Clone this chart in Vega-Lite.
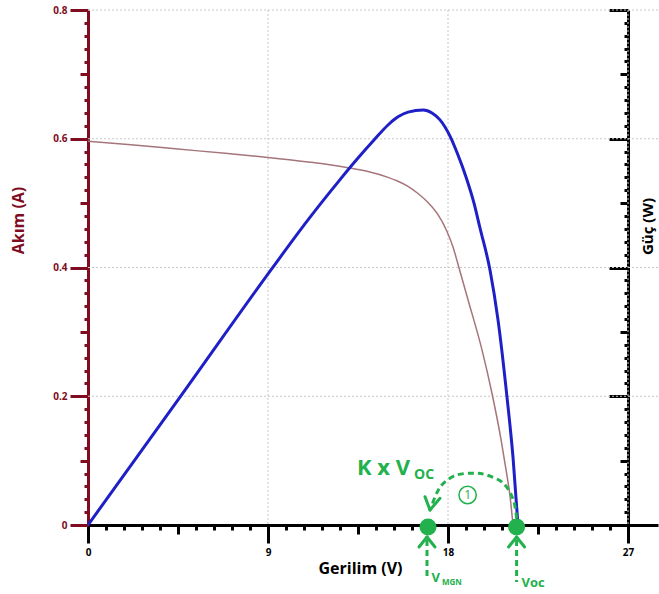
{
  "$schema": "https://vega.github.io/schema/vega-lite/v6.json",
  "width": 570,
  "height": 515,
  "autosize": "none",
  "padding": {"left": 88, "top": 10, "right": 1, "bottom": 69},
  "background": "white",
  "config": {"view": {"stroke": null}, "font": "Open Sans"},
  "datasets": {
    "hgrid": [{"I": 0.2}, {"I": 0.4}, {"I": 0.6}, {"I": 0.8}],
    "vgrid": [{"V": 9}, {"V": 18}, {"V": 27}],
    "current": [
      {"V": 0, "I": 0.596}, {"V": 2, "I": 0.591}, {"V": 4.5, "I": 0.584}, {"V": 7, "I": 0.577},
      {"V": 9, "I": 0.571}, {"V": 11, "I": 0.564}, {"V": 12, "I": 0.56}, {"V": 13, "I": 0.555},
      {"V": 14, "I": 0.549}, {"V": 15, "I": 0.540}, {"V": 15.5, "I": 0.534}, {"V": 16, "I": 0.526},
      {"V": 16.5, "I": 0.515}, {"V": 17, "I": 0.501}, {"V": 17.5, "I": 0.482}, {"V": 17.95, "I": 0.456},
      {"V": 18.25, "I": 0.432}, {"V": 18.5, "I": 0.405}, {"V": 19, "I": 0.350}, {"V": 19.7, "I": 0.272},
      {"V": 20.23, "I": 0.2}, {"V": 20.65, "I": 0.133}, {"V": 20.9, "I": 0.086}, {"V": 21.1, "I": 0.045},
      {"V": 21.2, "I": 0.016}, {"V": 21.25, "I": 0}
    ],
    "power": [
      {"V": 0, "P": 0}, {"V": 4.6, "P": 2.98}, {"V": 9.25, "P": 6.01}, {"V": 11, "P": 7.11},
      {"V": 12.5, "P": 7.99}, {"V": 13.5, "P": 8.55}, {"V": 14.3, "P": 8.97}, {"V": 15, "P": 9.32},
      {"V": 15.5, "P": 9.51}, {"V": 16, "P": 9.62}, {"V": 16.77, "P": 9.67}, {"V": 17.2, "P": 9.6},
      {"V": 17.6, "P": 9.44}, {"V": 18.1, "P": 9.06}, {"V": 18.5, "P": 8.62}, {"V": 18.9, "P": 8.11},
      {"V": 19.3, "P": 7.5}, {"V": 19.6, "P": 6.92}, {"V": 20.1, "P": 5.94}, {"V": 20.5, "P": 4.78},
      {"V": 20.95, "P": 2.98}, {"V": 21.25, "P": 1.58}, {"V": 21.5, "P": 0}
    ],
    "dashed": [
      {"part": "arc", "k": 1, "V": 21.43, "I": 0.0104},
      {"part": "arc", "k": 2, "V": 21.27, "I": 0.0388},
      {"part": "arc", "k": 3, "V": 20.77, "I": 0.0648},
      {"part": "arc", "k": 4, "V": 19.93, "I": 0.0777},
      {"part": "arc", "k": 5, "V": 19.27, "I": 0.0803},
      {"part": "arc", "k": 6, "V": 18.43, "I": 0.0777},
      {"part": "arc", "k": 7, "V": 17.77, "I": 0.0648},
      {"part": "arc", "k": 8, "V": 17.43, "I": 0.0492},
      {"part": "arc", "k": 9, "V": 17.2, "I": 0.031},
      {"part": "upL", "k": 1, "V": 16.95, "I": -0.0233},
      {"part": "upL", "k": 2, "V": 16.95, "I": -0.0854},
      {"part": "upR", "k": 1, "V": 21.43, "I": -0.0233},
      {"part": "upR", "k": 2, "V": 21.43, "I": -0.0885}
    ],
    "heads": [
      {"V": 17.1, "I": 0.0233, "V2": 16.85, "I2": 0.044},
      {"V": 17.1, "I": 0.0233, "V2": 17.6, "I2": 0.0415},
      {"V": 16.95, "I": -0.0186, "V2": 16.55, "I2": -0.0342},
      {"V": 16.95, "I": -0.0186, "V2": 17.35, "I2": -0.0342},
      {"V": 21.43, "I": -0.0186, "V2": 21.03, "I2": -0.0342},
      {"V": 21.43, "I": -0.0186, "V2": 21.83, "I2": -0.0342}
    ],
    "dots": [
      {"name": "VMGN", "V": 17.0, "I": -0.003},
      {"name": "Voc", "V": 21.43, "I": -0.003}
    ],
    "step": [{"label": "1", "V": 18.98, "I": 0.0466}],
    "bigText": [{"label": "K x V", "V": 13.45, "I": 0.0777}],
    "bigSub": [{"label": "OC", "V": 16.3, "I": 0.0715}],
    "midText": [
      {"label": "V", "V": 17.18, "I": -0.0885},
      {"label": "Voc", "V": 21.68, "I": -0.0963}
    ],
    "smallSub": [{"label": "MGN", "V": 17.7, "I": -0.0932}]
  },
  "layer": [
    {
      "data": {"name": "hgrid"},
      "mark": {"type": "rule", "color": "#c8c8c8", "strokeWidth": 1, "strokeDash": [2, 2]},
      "encoding": {
        "y": {"field": "I", "type": "quantitative", "scale": {"domain": [0, 0.8], "nice": false}, "axis": null}
      }
    },
    {
      "data": {"name": "vgrid"},
      "mark": {"type": "rule", "color": "#c8c8c8", "strokeWidth": 1, "strokeDash": [2, 2]},
      "encoding": {
        "x": {
          "field": "V", "type": "quantitative",
          "scale": {"domain": [0, 28.5], "nice": false, "zero": false},
          "axis": {
            "orient": "bottom",
            "values": [0,0.9,1.8,2.7,3.6,4.5,5.4,6.3,7.2,8.1,9,9.9,10.8,11.7,12.6,13.5,14.4,15.3,16.2,17.1,18,18.9,19.8,20.7,21.6,22.5,23.4,24.3,25.2,26.1,27],
            "domainColor": "black", "domainWidth": 3,
            "tickColor": "black", "tickWidth": 3,
            "tickSize": {"condition": [{"test": "round(datum.value*10) % 90 === 0", "value": 18}, {"test": "round(datum.value*10) % 45 === 0", "value": 9}], "value": 5},
            "labelExpr": "round(datum.value*10) % 90 === 0 ? format(datum.value, 'd') : ''",
            "labelFontSize": 10, "labelFontWeight": "bold", "labelColor": "black", "labelPadding": 4,
            "labelFlush": false, "labelOverlap": false, "labelBound": false, "grid": false,
            "title": "Gerilim (V)", "titleFontSize": 16, "titleFontWeight": "bold", "titleColor": "black",
            "titleX": 272, "titleY": 43, "titleAlign": "center", "titleBaseline": "middle"
          }
        }
      }
    },
    {
      "data": {"name": "current"},
      "mark": {"type": "line", "color": "#a4757b", "strokeWidth": 1.5, "interpolate": "monotone"},
      "encoding": {
        "x": {"field": "V", "type": "quantitative", "scale": {"domain": [0, 28.5], "nice": false, "zero": false}, "axis": null},
        "y": {
          "field": "I", "type": "quantitative",
          "scale": {"domain": [0, 0.8], "nice": false},
          "axis": {
            "orient": "left",
            "values": [0,0.02,0.04,0.06,0.08,0.1,0.12,0.14,0.16,0.18,0.2,0.22,0.24,0.26,0.28,0.3,0.32,0.34,0.36,0.38,0.4,0.42,0.44,0.46,0.48,0.5,0.52,0.54,0.56,0.58,0.6,0.62,0.64,0.66,0.68,0.7,0.72,0.74,0.76,0.78,0.8],
            "domainColor": "#800d1f", "domainWidth": 3,
            "tickColor": "#800d1f", "tickWidth": 3,
            "tickSize": {"condition": [{"test": "round(datum.value*100) % 20 === 0", "value": 18}, {"test": "round(datum.value*100) % 10 === 0", "value": 8}], "value": 4},
            "labelExpr": "round(datum.value*100) % 20 === 0 ? (datum.value === 0 ? '0' : format(datum.value, '.1f')) : ''",
            "labelFontSize": 10, "labelFontWeight": "bold", "labelColor": "#800d1f", "labelPadding": 3,
            "labelOverlap": false, "labelFlush": false, "labelBound": false, "grid": false,
            "title": "Akım (A)", "titleFontSize": 16, "titleFontWeight": "bold", "titleColor": "#800d1f",
            "titleAngle": -90, "titleX": -70, "titleY": 210, "titleAlign": "center", "titleBaseline": "middle"
          }
        }
      }
    },
    {
      "data": {"name": "power"},
      "mark": {"type": "line", "color": "#1f1fc8", "strokeWidth": 3, "interpolate": "monotone"},
      "encoding": {
        "x": {"field": "V", "type": "quantitative", "scale": {"domain": [0, 28.5], "nice": false, "zero": false}, "axis": null},
        "y": {
          "field": "P", "type": "quantitative",
          "scale": {"domain": [0, 12], "nice": false},
          "axis": {
            "orient": "left", "offset": -540,
            "values": [0,0.3,0.6,0.9,1.2,1.5,1.8,2.1,2.4,2.7,3,3.3,3.6,3.9,4.2,4.5,4.8,5.1,5.4,5.7,6,6.3,6.6,6.9,7.2,7.5,7.8,8.1,8.4,8.7,9,9.3,9.6,9.9,10.2,10.5,10.8,11.1,11.4,11.7,12],
            "labels": false, "grid": false,
            "domainColor": "black", "domainWidth": 3,
            "tickColor": "black", "tickWidth": 3,
            "tickSize": {"condition": [{"test": "round(datum.value*10) % 30 === 0", "value": 19}, {"test": "round(datum.value*10) % 15 === 0", "value": 8}], "value": 4},
            "title": "Güç (W)", "titleFontSize": 15, "titleFontWeight": "bold", "titleColor": "black",
            "titleAngle": -90, "titleX": 19, "titleY": 216, "titleAlign": "center", "titleBaseline": "middle"
          }
        }
      }
    },
    {
      "data": {"name": "dashed"},
      "mark": {"type": "line", "color": "#22b14c", "strokeWidth": 3, "strokeDash": [6, 4], "interpolate": "cardinal"},
      "encoding": {
        "x": {"field": "V", "type": "quantitative", "scale": {"domain": [0, 28.5], "nice": false, "zero": false}, "axis": null},
        "y": {"field": "I", "type": "quantitative", "scale": {"domain": [0, 0.8], "nice": false}, "axis": null},
        "detail": {"field": "part"},
        "order": {"field": "k", "type": "quantitative"}
      }
    },
    {
      "data": {"name": "heads"},
      "mark": {"type": "rule", "color": "#22b14c", "strokeWidth": 3, "strokeCap": "round"},
      "encoding": {
        "x": {"field": "V", "type": "quantitative", "scale": {"domain": [0, 28.5], "nice": false, "zero": false}, "axis": null},
        "y": {"field": "I", "type": "quantitative", "scale": {"domain": [0, 0.8], "nice": false}, "axis": null},
        "x2": {"field": "V2"},
        "y2": {"field": "I2"}
      }
    },
    {
      "data": {"name": "dots"},
      "mark": {"type": "point", "shape": "circle", "filled": true, "color": "#22b14c", "size": 290, "opacity": 1},
      "encoding": {
        "x": {"field": "V", "type": "quantitative", "scale": {"domain": [0, 28.5], "nice": false, "zero": false}, "axis": null},
        "y": {"field": "I", "type": "quantitative", "scale": {"domain": [0, 0.8], "nice": false}, "axis": null}
      }
    },
    {
      "data": {"name": "step"},
      "mark": {"type": "point", "shape": "circle", "filled": false, "color": "#22b14c", "size": 300, "strokeWidth": 1.5, "opacity": 1},
      "encoding": {
        "x": {"field": "V", "type": "quantitative", "scale": {"domain": [0, 28.5], "nice": false, "zero": false}, "axis": null},
        "y": {"field": "I", "type": "quantitative", "scale": {"domain": [0, 0.8], "nice": false}, "axis": null}
      }
    },
    {
      "data": {"name": "step"},
      "mark": {"type": "text", "color": "#22b14c", "fontSize": 12, "align": "center", "baseline": "middle", "font": "Open Sans"},
      "encoding": {
        "x": {"field": "V", "type": "quantitative", "scale": {"domain": [0, 28.5], "nice": false, "zero": false}, "axis": null},
        "y": {"field": "I", "type": "quantitative", "scale": {"domain": [0, 0.8], "nice": false}, "axis": null},
        "text": {"field": "label"}
      }
    },
    {
      "data": {"name": "bigText"},
      "mark": {"type": "text", "color": "#22b14c", "fontSize": 22, "fontWeight": "bold", "align": "left", "baseline": "alphabetic", "font": "Open Sans"},
      "encoding": {
        "x": {"field": "V", "type": "quantitative", "scale": {"domain": [0, 28.5], "nice": false, "zero": false}, "axis": null},
        "y": {"field": "I", "type": "quantitative", "scale": {"domain": [0, 0.8], "nice": false}, "axis": null},
        "text": {"field": "label"}
      }
    },
    {
      "data": {"name": "bigSub"},
      "mark": {"type": "text", "color": "#22b14c", "fontSize": 14, "fontWeight": "bold", "align": "left", "baseline": "alphabetic", "font": "Open Sans"},
      "encoding": {
        "x": {"field": "V", "type": "quantitative", "scale": {"domain": [0, 28.5], "nice": false, "zero": false}, "axis": null},
        "y": {"field": "I", "type": "quantitative", "scale": {"domain": [0, 0.8], "nice": false}, "axis": null},
        "text": {"field": "label"}
      }
    },
    {
      "data": {"name": "midText"},
      "mark": {"type": "text", "color": "#22b14c", "fontSize": 13, "fontWeight": "bold", "align": "left", "baseline": "alphabetic", "font": "Open Sans"},
      "encoding": {
        "x": {"field": "V", "type": "quantitative", "scale": {"domain": [0, 28.5], "nice": false, "zero": false}, "axis": null},
        "y": {"field": "I", "type": "quantitative", "scale": {"domain": [0, 0.8], "nice": false}, "axis": null},
        "text": {"field": "label"}
      }
    },
    {
      "data": {"name": "smallSub"},
      "mark": {"type": "text", "color": "#22b14c", "fontSize": 8, "fontWeight": "bold", "align": "left", "baseline": "alphabetic", "font": "Open Sans"},
      "encoding": {
        "x": {"field": "V", "type": "quantitative", "scale": {"domain": [0, 28.5], "nice": false, "zero": false}, "axis": null},
        "y": {"field": "I", "type": "quantitative", "scale": {"domain": [0, 0.8], "nice": false}, "axis": null},
        "text": {"field": "label"}
      }
    }
  ],
  "resolve": {"scale": {"y": "independent"}, "axis": {"x": "independent", "y": "independent"}}
}
